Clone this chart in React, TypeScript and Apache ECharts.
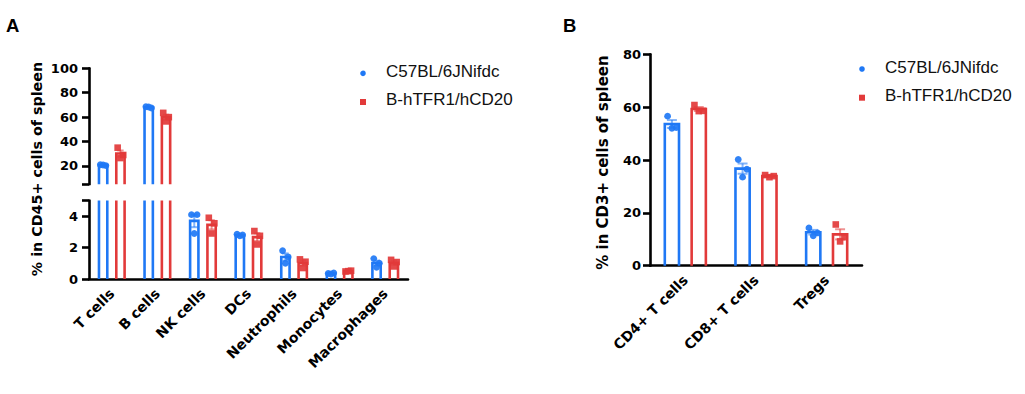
import React, { useEffect, useRef } from 'react';
import * as echarts from 'echarts';

const groups = ['C57BL/6JNifdc', 'B-hTFR1/hCD20'];
const colors = ['#1f78f5', '#e23a3a'];

const catsA = ['T cells', 'B cells', 'NK cells', 'DCs', 'Neutrophils', 'Monocytes', 'Macrophages'];
const wtA = [[21, 20.3, 20.8], [68.5, 67.5, 68.3], [4.1, 4.1, 2.9], [2.85, 2.8, 2.75], [1.8, 1.4, 1.0], [0.35, 0.38, 0.32], [1.3, 1.0, 0.75]];
const tgA = [[35, 29, 26.5], [63.5, 60, 56.5], [3.9, 3.55, 2.9], [3.05, 2.75, 2.2], [1.25, 1.1, 0.7], [0.48, 0.53, 0.5], [1.22, 1.08, 0.8]];

const catsB = ['CD4+ T cells', 'CD8+ T cells', 'Tregs'];
const wtB = [[56.6, 52.3, 52], [40.2, 36.5, 33.5], [14.3, 12.4, 11.3]];
const tgB = [[60.8, 58.6, 58.5], [34.3, 33.9, 33.5], [15.6, 10.8, 9.2]];

const upperTicksA = [5, 20, 40, 60, 80, 100];
const upperLabelsA = [20, 40, 60, 80, 100];
const lowerTicksA = [0, 2, 4, 5];
const lowerLabelsA = [0, 2, 4];

const SANS = '"Liberation Sans", Arial, Helvetica, sans-serif';
const WIDE = '"DejaVu Sans", Verdana, sans-serif';

function stats(pts: number[]) {
  const n = pts.length;
  const m = pts.reduce((a, b) => a + b, 0) / n;
  const sd = Math.sqrt(pts.reduce((a, b) => a + (b - m) * (b - m), 0) / (n - 1));
  return [m, sd / Math.sqrt(n)];
}

function toData(arr: number[][]) {
  return arr.map((pts, i) => {
    const [m, s] = stats(pts);
    return [i, m, s, ...pts];
  });
}

function makeRender(side: number, color: string, square: boolean, yMin: number, yMax: number) {
  return (params: any, api: any) => {
    const ci = api.value(0);
    const mean = api.value(1);
    const sem = api.value(2);
    const pts = [api.value(3), api.value(4), api.value(5)];
    const band = api.size([1, 0])[0];
    const cx = api.coord([ci, yMin])[0] + side * band * 0.19;
    const bw = band * 0.235;
    const yc = (v: number) => api.coord([ci, Math.max(yMin, Math.min(yMax, v))])[1];
    const children: any[] = [];
    if (mean <= yMin) return { type: 'group', children };
    const l = cx - bw / 2 + 1.2;
    const r = cx + bw / 2 - 1.2;
    const y0 = yc(yMin);
    const barStyle = { stroke: color, lineWidth: 2.6, fill: null };
    if (mean <= yMax) {
      const yt = yc(mean);
      children.push({ type: 'polyline', shape: { points: [[l, y0], [l, yt], [r, yt], [r, y0]] }, style: barStyle });
    } else {
      const yt = yc(yMax);
      children.push({ type: 'line', shape: { x1: l, y1: y0, x2: l, y2: yt }, style: barStyle });
      children.push({ type: 'line', shape: { x1: r, y1: y0, x2: r, y2: yt }, style: barStyle });
    }
    const lo = mean - sem;
    const hi = mean + sem;
    const errStyle = { stroke: color, lineWidth: 2, opacity: 0.55 };
    if (hi > yMin && lo < yMax) {
      const cw = bw * 0.3;
      children.push({ type: 'line', shape: { x1: cx, y1: yc(lo), x2: cx, y2: yc(hi) }, style: errStyle });
      if (hi <= yMax) children.push({ type: 'line', shape: { x1: cx - cw, y1: yc(hi), x2: cx + cw, y2: yc(hi) }, style: errStyle });
      if (lo >= yMin) children.push({ type: 'line', shape: { x1: cx - cw, y1: yc(lo), x2: cx + cw, y2: yc(lo) }, style: errStyle });
    }
    const offs = [-0.26, 0.26, 0];
    pts.forEach((p: number, i: number) => {
      if (p < yMin || p > yMax) return;
      const px = cx + offs[i] * bw;
      const py = yc(p);
      if (square) {
        children.push({ type: 'rect', shape: { x: px - 3.3, y: py - 3.3, width: 6.6, height: 6.6 }, style: { fill: color, opacity: 0.92 } });
      } else {
        children.push({ type: 'circle', shape: { cx: px, cy: py, r: 3.4 }, style: { fill: color, opacity: 0.92 } });
      }
    });
    return { type: 'group', children };
  };
}

const axisLineStyle = { color: '#000', width: 2.6 };
const tickLabelStyle = { color: '#000', fontWeight: 'bold' as const, fontSize: 13, fontFamily: WIDE };
const catLabelStyle = { color: '#000', fontWeight: 'bold' as const, fontSize: 14, fontFamily: WIDE, rotate: 45, margin: 12 };

export default function App() {
  const ref = useRef<HTMLDivElement>(null);
  useEffect(() => {
    if (!ref.current) return;
    const chart = echarts.init(ref.current, undefined, { renderer: 'svg' });
    const dA = [toData(wtA), toData(tgA)];
    const dB = [toData(wtB), toData(tgB)];
    const series: any[] = [];
    const gridDefs = [
      { x: 0, y: 0, min: 5, max: 100, data: dA },
      { x: 1, y: 1, min: 0, max: 5, data: dA },
      { x: 2, y: 2, min: 0, max: 80, data: dB },
    ];
    gridDefs.forEach((g) => {
      [0, 1].forEach((k) => {
        series.push({
          type: 'custom',
          name: groups[k],
          xAxisIndex: g.x,
          yAxisIndex: g.y,
          encode: { x: 0, y: 1 },
          data: g.data[k],
          renderItem: makeRender(k === 0 ? -1 : 1, colors[k], k === 1, g.min, g.max),
          clip: false,
          z: 3,
        });
      });
    });

    const legendGraphics: any[] = [];
    const legendPos = [
      { mx: 363, tx: 386, m0: 73.3, m1: 102, t0: 71, t1: 99.5 },
      { mx: 862, tx: 885, m0: 69, m1: 97.7, t0: 67, t1: 95.5 },
    ];
    legendPos.forEach((p) => {
      legendGraphics.push({ type: 'circle', shape: { cx: p.mx, cy: p.m0, r: 2.8 }, style: { fill: colors[0] } });
      legendGraphics.push({ type: 'text', x: p.tx, y: p.t0, style: { text: groups[0], fill: '#111', font: `17px ${SANS}`, textVerticalAlign: 'middle' } });
      legendGraphics.push({ type: 'rect', shape: { x: p.mx - 3, y: p.m1 - 3, width: 6, height: 6 }, style: { fill: colors[1] } });
      legendGraphics.push({ type: 'text', x: p.tx, y: p.t1, style: { text: groups[1], fill: '#111', font: `17px ${SANS}`, textVerticalAlign: 'middle' } });
    });

    chart.setOption({
      animation: false,
      grid: [
        { left: 89, top: 68.3, width: 319, height: 116, outerBoundsMode: 'none', containLabel: false },
        { left: 89, top: 200.5, width: 319, height: 78.5, outerBoundsMode: 'none', containLabel: false },
        { left: 650, top: 54.3, width: 212, height: 211.4, outerBoundsMode: 'none', containLabel: false },
      ],
      xAxis: [
        { gridIndex: 0, type: 'category', data: catsA, show: false },
        {
          gridIndex: 1, type: 'category', data: catsA,
          axisLine: { lineStyle: axisLineStyle },
          axisTick: { alignWithLabel: true, length: 8, lineStyle: axisLineStyle },
          axisLabel: catLabelStyle,
        },
        {
          gridIndex: 2, type: 'category', data: catsB,
          axisLine: { lineStyle: axisLineStyle },
          axisTick: { alignWithLabel: true, length: 8, lineStyle: axisLineStyle },
          axisLabel: catLabelStyle,
        },
      ],
      yAxis: [
        {
          gridIndex: 0, type: 'value', min: 5, max: 100,
          axisLine: { show: true, lineStyle: axisLineStyle },
          axisTick: { show: true, length: 7, customValues: upperTicksA, lineStyle: axisLineStyle },
          axisLabel: { ...tickLabelStyle, margin: 11, customValues: upperLabelsA },
          splitLine: { show: false },
        },
        {
          gridIndex: 1, type: 'value', min: 0, max: 5,
          axisLine: { show: true, lineStyle: axisLineStyle },
          axisTick: { show: true, length: 7, customValues: lowerTicksA, lineStyle: axisLineStyle },
          axisLabel: { ...tickLabelStyle, margin: 11, customValues: lowerLabelsA },
          splitLine: { show: false },
        },
        {
          gridIndex: 2, type: 'value', min: 0, max: 80, interval: 20,
          axisLine: { show: true, lineStyle: axisLineStyle },
          axisTick: { show: true, length: 7, lineStyle: axisLineStyle },
          axisLabel: { ...tickLabelStyle, margin: 9 },
          splitLine: { show: false },
        },
      ],
      graphic: [
        { type: 'text', x: 6, y: 25, style: { text: 'A', fill: '#000', font: `bold 18.5px ${SANS}`, textVerticalAlign: 'middle' } },
        { type: 'text', x: 563, y: 25.5, style: { text: 'B', fill: '#000', font: `bold 18.5px ${SANS}`, textVerticalAlign: 'middle' } },
        { type: 'text', x: 36.5, y: 169, rotation: Math.PI / 2, style: { text: '% in CD45+ cells of spleen', fill: '#000', font: `bold 14.3px ${WIDE}`, textAlign: 'center', textVerticalAlign: 'middle' } },
        { type: 'text', x: 602.5, y: 162.5, rotation: Math.PI / 2, style: { text: '% in CD3+ cells of spleen', fill: '#000', font: `bold 15px ${WIDE}`, textAlign: 'center', textVerticalAlign: 'middle' } },
        ...legendGraphics,
      ],
      series,
    });
    return () => chart.dispose();
  }, []);
  return <div ref={ref} style={{ position: 'fixed', left: 0, top: 0, width: 1025, height: 394, background: '#fff' }} />;
}
